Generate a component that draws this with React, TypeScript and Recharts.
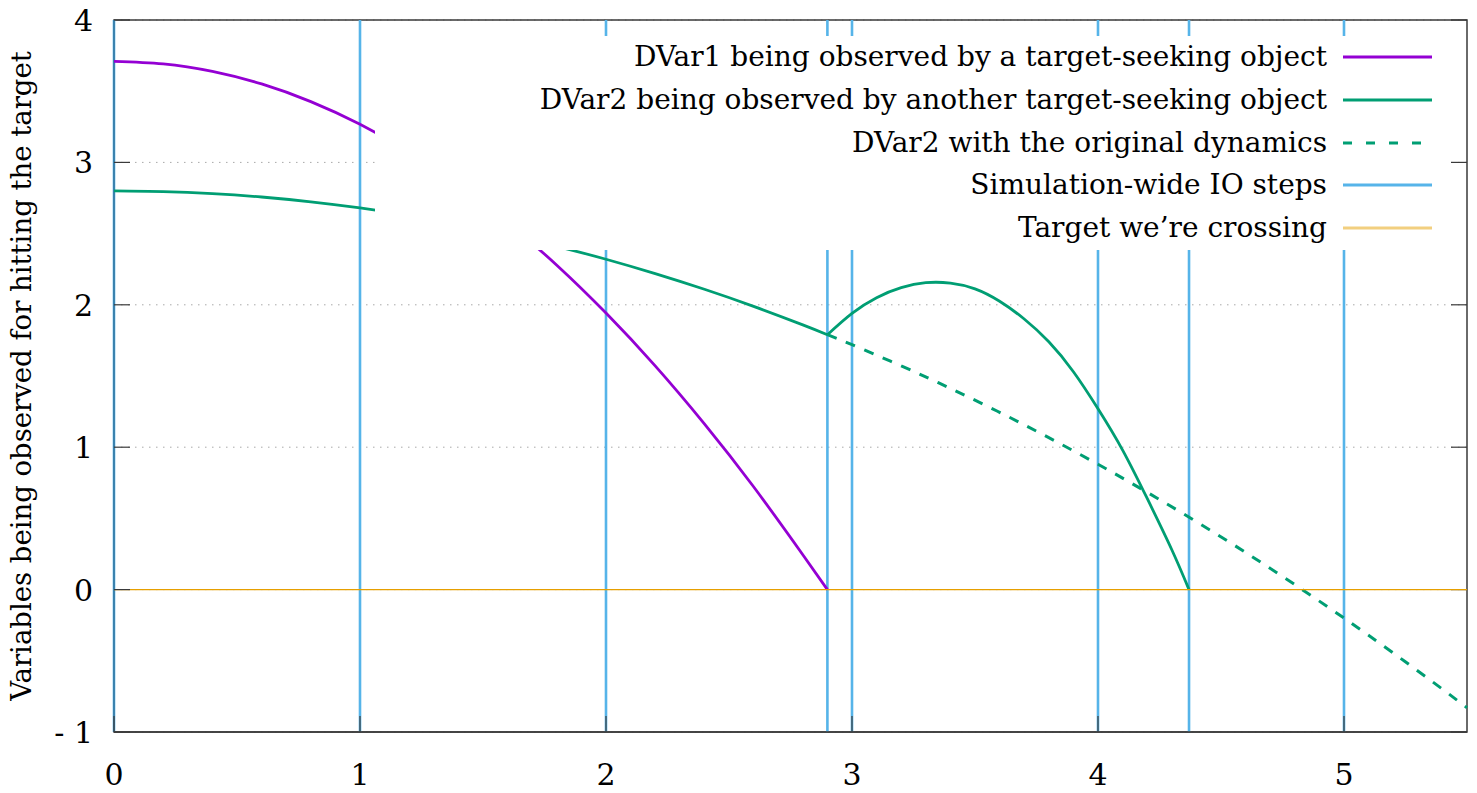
import React from "react";
import { CartesianGrid, Legend, Line, LineChart, ReferenceArea, ReferenceLine, XAxis, YAxis } from "recharts";

// Axis ticks and range
const xTicks = [0, 1, 2, 3, 4, 5];
const yTicks = [-1, 0, 1, 2, 3, 4];
const xMax = 5.5;

// Simulation-wide IO steps (vertical lines) and the target value
const ioSteps = [0, 1, 2, 2.9, 3, 4, 4.37, 5];
const targetValue = 0;

// DVar1 observed by a target-seeking object
const dvar1Time = [0, 0.2, 0.4, 0.6, 0.8, 1.0, 1.2, 1.4, 1.6, 1.8, 2.0, 2.2, 2.4, 2.6, 2.8, 2.9];
const dvar1Value = [3.71, 3.692, 3.639, 3.551, 3.427, 3.268, 3.074, 2.844, 2.578, 2.278, 1.942, 1.571, 1.164, 0.722, 0.245, 0];

// DVar2 observed by another target-seeking object (before and after the 2.9 IO step)
const dvar2Time = [0, 0.2, 0.4, 0.6, 0.8, 1.0, 1.2, 1.4, 1.6, 1.8, 2.0, 2.2, 2.4, 2.6, 2.8, 2.9];
const dvar2Value = [2.8, 2.795, 2.781, 2.757, 2.723, 2.68, 2.627, 2.565, 2.493, 2.411, 2.32, 2.219, 2.109, 1.989, 1.859, 1.79];
const dvar2LateTime = [2.9, 3.0, 3.1, 3.2, 3.3, 3.4, 3.5, 3.6, 3.7, 3.8, 3.9, 4.0, 4.1, 4.2, 4.3, 4.37];
const dvar2LateValue = [1.79, 1.94, 2.05, 2.12, 2.155, 2.152, 2.112, 2.025, 1.9, 1.74, 1.53, 1.27, 0.98, 0.64, 0.28, 0];

// DVar2 with the original dynamics
const dvar2OrigTime = [2.9, 3.0, 3.2, 3.4, 3.6, 3.8, 4.0, 4.2, 4.4, 4.6, 4.8, 5.0, 5.2, 5.4, 5.5];
const dvar2OrigValue = [1.79, 1.72, 1.571, 1.413, 1.245, 1.067, 0.88, 0.683, 0.477, 0.261, 0.035, -0.2, -0.445, -0.699, -0.83];

const legendLabels = [
  "DVar1 being observed by a target-seeking object",
  "DVar2 being observed by another target-seeking object",
  "DVar2 with the original dynamics",
  "Simulation-wide IO steps",
  "Target we\u2019re crossing",
];

const zip = (xs: number[], ys: number[]) => xs.map((x, i) => ({ x, y: ys[i] }));

const FONT = '"DejaVu Serif", serif';
const PURPLE = "#9400D3";
const GREEN = "#009E73";
const BLUE = "#56B4E9";
const ORANGE = "#E69F00";
const BORDER = "#3a3a3a";

const legendStyles = [
  { color: PURPLE, width: 3, dash: undefined as string | undefined, opacity: 1 },
  { color: GREEN, width: 3, dash: undefined, opacity: 1 },
  { color: GREEN, width: 3, dash: "9 14", opacity: 1 },
  { color: BLUE, width: 3, dash: undefined, opacity: 1 },
  { color: ORANGE, width: 3, dash: undefined, opacity: 0.5 },
];

function formatY(v: number): string {
  return v < 0 ? `- ${Math.abs(v)}` : String(v);
}

function LeftTick(props: any) {
  const { x, y, payload } = props;
  return (
    <g>
      <line x1={x} x2={x + 16} y1={y} y2={y} stroke={BORDER} strokeWidth={1.2} />
      <text x={x - 21} y={y + 11} textAnchor="end" fontFamily={FONT} fontSize={30} fill="#000">
        {formatY(payload.value)}
      </text>
    </g>
  );
}

function BottomTick(props: any) {
  const { x, y, payload } = props;
  return (
    <g>
      <line x1={x} x2={x} y1={y} y2={y - 16} stroke={BORDER} strokeWidth={1.2} />
      <text x={x} y={y + 53} textAnchor="middle" fontFamily={FONT} fontSize={30} fill="#000">
        {payload.value}
      </text>
    </g>
  );
}

function KeyBox() {
  return (
    <div style={{ fontFamily: FONT, fontSize: 28, color: "#000" }}>
      {legendLabels.map((label, i) => {
        const s = legendStyles[i];
        return (
          <div key={label} style={{ display: "flex", alignItems: "center", justifyContent: "flex-end", height: 42.7, paddingRight: 15 }}>
            <span style={{ lineHeight: 1, whiteSpace: "nowrap" }}>{label}</span>
            <svg width={89} height={10} style={{ marginLeft: 16, display: "block" }}>
              <line x1={0} x2={89} y1={5} y2={5} stroke={s.color} strokeWidth={s.width} strokeDasharray={s.dash} strokeOpacity={s.opacity} />
            </svg>
          </div>
        );
      })}
    </div>
  );
}

export default function App() {
  const dvar1 = zip(dvar1Time, dvar1Value);
  const dvar2 = zip(dvar2Time, dvar2Value);
  const dvar2Late = zip(dvar2LateTime, dvar2LateValue);
  const dvar2Orig = zip(dvar2OrigTime, dvar2OrigValue);

  return (
    <div style={{ position: "absolute", left: 0, top: 0, width: 1477, height: 793, background: "#fff" }}>
      <LineChart width={1477} height={793} margin={{ top: 20, right: 10, left: 0, bottom: 0 }}>
        <CartesianGrid vertical={false} stroke="#a8a8a8" strokeDasharray="1.5 5.5" />
        <XAxis
          dataKey="x"
          type="number"
          domain={[0, xMax]}
          ticks={xTicks}
          height={61}
          tickSize={0}
          tickMargin={0}
          axisLine={{ stroke: BORDER, strokeWidth: 1.5 }}
          tickLine={false}
          tick={(p: any) => <BottomTick {...p} />}
        />
        <YAxis
          type="number"
          domain={[-1, 4]}
          ticks={yTicks}
          width={114}
          tickSize={0}
          tickMargin={0}
          tickLine={false}
          axisLine={false}
          tick={(p: any) => <LeftTick {...p} />}
          label={{
            content: () => (
              <text transform="translate(31, 376) rotate(-90)" textAnchor="middle" fontFamily={FONT} fontSize={27.5} fill="#000">
                Variables being observed for hitting the target
              </text>
            ),
          }}
        />
        {/* plot frame */}
        <ReferenceArea x1={0} x2={xMax} y1={-1} y2={4} fill="none" stroke={BORDER} strokeWidth={1.5} />
        {yTicks.map((v) => (
          <ReferenceLine key={`rt${v}`} segment={[{ x: xMax - 0.065, y: v }, { x: xMax, y: v }]} stroke={BORDER} strokeWidth={1.2} />
        ))}
        {ioSteps.map((t) => (
          <ReferenceLine key={t} x={t} stroke={BLUE} strokeWidth={2.6} />
        ))}
        <ReferenceLine x={0} stroke="#2b6288" strokeWidth={1.2} />
        <Line data={dvar1} dataKey="y" type="natural" stroke={PURPLE} strokeWidth={2.8} dot={false} isAnimationActive={false} />
        <Line data={dvar2} dataKey="y" type="natural" stroke={GREEN} strokeWidth={2.8} dot={false} isAnimationActive={false} />
        <Line data={dvar2Late} dataKey="y" type="natural" stroke={GREEN} strokeWidth={2.8} dot={false} isAnimationActive={false} />
        <Line data={dvar2Orig} dataKey="y" type="natural" stroke={GREEN} strokeWidth={3} strokeDasharray="10 10" dot={false} isAnimationActive={false} />
        <ReferenceLine y={targetValue} stroke={ORANGE} strokeWidth={1.3} />
        <Legend
          layout="vertical"
          align="center"
          verticalAlign="middle"
          content={() => <KeyBox />}
          wrapperStyle={{ left: 375, top: 36, width: 1072, height: 214, background: "#fff" }}
        />
      </LineChart>
    </div>
  );
}
